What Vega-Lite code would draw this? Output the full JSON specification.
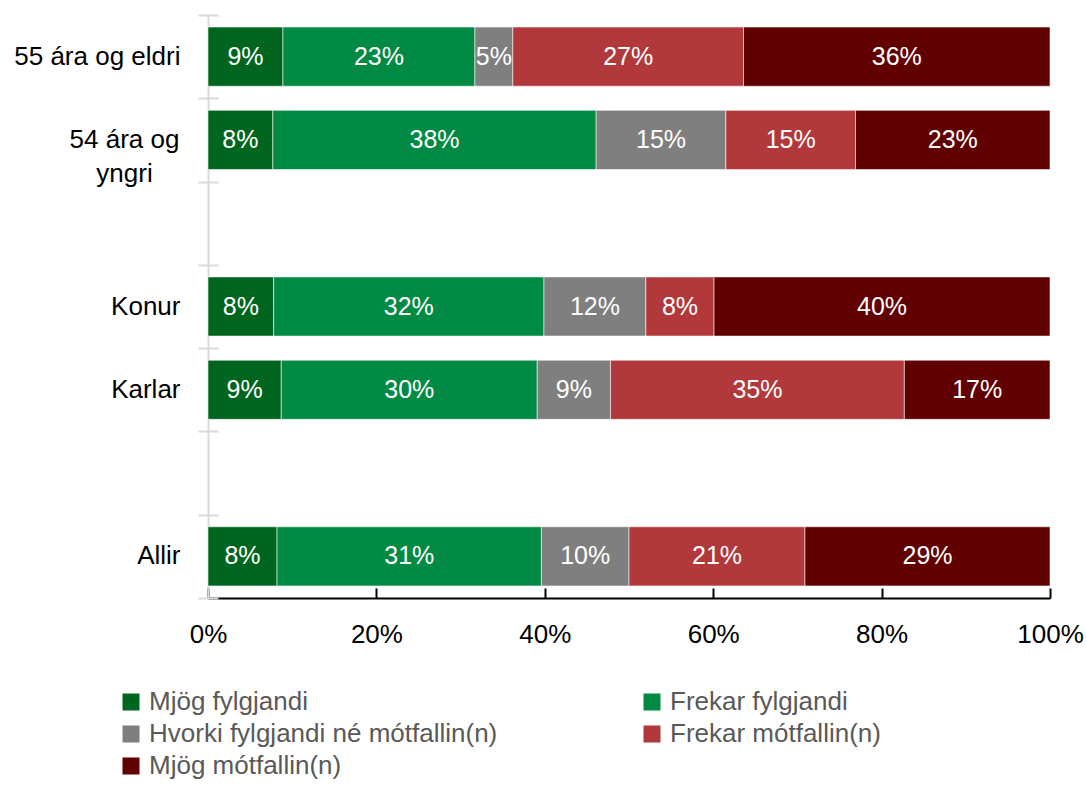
{
  "$schema": "https://vega.github.io/schema/vega-lite/v6.json",
  "autosize": "none",
  "width": 842,
  "height": 583,
  "padding": {"left": 208, "top": 15, "right": 36, "bottom": 187},
  "background": "#ffffff",
  "config": {"view": {"stroke": null}, "font": "Liberation Sans"},
  "data": {"values": [
    {"g": "55 ára og eldri", "c": "Mjög fylgjandi", "o": 1, "v": 0.089},
    {"g": "55 ára og eldri", "c": "Frekar fylgjandi", "o": 2, "v": 0.228},
    {"g": "55 ára og eldri", "c": "Hvorki fylgjandi né mótfallin(n)", "o": 3, "v": 0.045},
    {"g": "55 ára og eldri", "c": "Frekar mótfallin(n)", "o": 4, "v": 0.274},
    {"g": "55 ára og eldri", "c": "Mjög mótfallin(n)", "o": 5, "v": 0.364},
    {"g": "54 ára og yngri", "c": "Mjög fylgjandi", "o": 1, "v": 0.077},
    {"g": "54 ára og yngri", "c": "Frekar fylgjandi", "o": 2, "v": 0.384},
    {"g": "54 ára og yngri", "c": "Hvorki fylgjandi né mótfallin(n)", "o": 3, "v": 0.154},
    {"g": "54 ára og yngri", "c": "Frekar mótfallin(n)", "o": 4, "v": 0.154},
    {"g": "54 ára og yngri", "c": "Mjög mótfallin(n)", "o": 5, "v": 0.231},
    {"g": "Konur", "c": "Mjög fylgjandi", "o": 1, "v": 0.078},
    {"g": "Konur", "c": "Frekar fylgjandi", "o": 2, "v": 0.321},
    {"g": "Konur", "c": "Hvorki fylgjandi né mótfallin(n)", "o": 3, "v": 0.121},
    {"g": "Konur", "c": "Frekar mótfallin(n)", "o": 4, "v": 0.081},
    {"g": "Konur", "c": "Mjög mótfallin(n)", "o": 5, "v": 0.399},
    {"g": "Karlar", "c": "Mjög fylgjandi", "o": 1, "v": 0.087},
    {"g": "Karlar", "c": "Frekar fylgjandi", "o": 2, "v": 0.304},
    {"g": "Karlar", "c": "Hvorki fylgjandi né mótfallin(n)", "o": 3, "v": 0.087},
    {"g": "Karlar", "c": "Frekar mótfallin(n)", "o": 4, "v": 0.349},
    {"g": "Karlar", "c": "Mjög mótfallin(n)", "o": 5, "v": 0.173},
    {"g": "Allir", "c": "Mjög fylgjandi", "o": 1, "v": 0.082},
    {"g": "Allir", "c": "Frekar fylgjandi", "o": 2, "v": 0.314},
    {"g": "Allir", "c": "Hvorki fylgjandi né mótfallin(n)", "o": 3, "v": 0.104},
    {"g": "Allir", "c": "Frekar mótfallin(n)", "o": 4, "v": 0.209},
    {"g": "Allir", "c": "Mjög mótfallin(n)", "o": 5, "v": 0.291}
  ]},
  "transform": [
    {"stack": "v", "groupby": ["g"], "sort": [{"field": "o", "order": "ascending"}], "as": ["x0", "x1"]}
  ],
  "resolve": {"axis": {"y": "independent"}},
  "layer": [
    {
      "mark": {"type": "bar", "height": {"band": 0.71}, "stroke": "#ffffff", "strokeOpacity": 0.55, "strokeWidth": 1},
      "encoding": {
        "y": {
          "field": "g", "type": "nominal",
          "scale": {"domain": ["55 ára og eldri", "54 ára og yngri", "gap1", "Konur", "Karlar", "gap2", "Allir"], "paddingInner": 0, "paddingOuter": 0},
          "axis": {
            "title": null, "domainColor": "#D9D9D9", "domainWidth": 2, "ticks": false,
            "labelPadding": {"condition": {"test": "datum.value == '54 ára og yngri'", "value": 84}, "value": 28},
            "labelAlign": {"condition": {"test": "datum.value == '54 ára og yngri'", "value": "center"}, "value": "right"},
            "labelFontSize": 26, "labelColor": "#000000", "labelLineHeight": 34, "labelLimit": 300,
            "labelExpr": "datum.value == '54 ára og yngri' ? ['54 ára og', 'yngri'] : (indexof(datum.value, 'gap') == 0 ? '' : datum.value)"
          }
        },
        "x": {
          "field": "x0", "type": "quantitative",
          "scale": {"domain": [0, 1], "nice": false},
          "axis": {
            "title": null, "values": [0, 0.2, 0.4, 0.6, 0.8, 1], "format": ".0%", "grid": false,
            "domainColor": "#000000", "domainWidth": 2, "tickColor": "#000000", "tickWidth": 2, "tickSize": -10,
            "labelPadding": 33, "labelFontSize": 26, "labelColor": "#000000", "labelFlush": false
          }
        },
        "x2": {"field": "x1"},
        "color": {
          "field": "c", "type": "nominal",
          "scale": {
            "domain": ["Mjög fylgjandi", "Frekar fylgjandi", "Hvorki fylgjandi né mótfallin(n)", "Frekar mótfallin(n)", "Mjög mótfallin(n)"],
            "range": ["#00651E", "#008A44", "#7F7F7F", "#B2393B", "#600000"]
          },
          "legend": {
            "orient": "none", "legendX": -90, "legendY": 674, "columns": 2, "direction": "horizontal",
            "columnPadding": 141, "rowPadding": 6,
            "symbolType": "square", "symbolSize": 289, "symbolStrokeWidth": 0,
            "labelFontSize": 26, "labelColor": "#595959", "labelLimit": 600, "title": null, "labelOffset": 5
          }
        }
      }
    },
    {
      "transform": [
        {"fold": ["x0", "x1"], "as": ["k", "p"]},
        {"aggregate": [{"op": "mean", "field": "p", "as": "mid"}], "groupby": ["g", "c", "v"]}
      ],
      "mark": {"type": "text", "color": "#ffffff", "fontSize": 25, "baseline": "middle", "align": "center"},
      "encoding": {
        "y": {
          "field": "g", "type": "nominal",
          "axis": {
            "orient": "left", "offset": -10, "domain": false, "labels": false, "ticks": true, "tickSize": 20,
            "tickColor": "#D9D9D9", "tickWidth": 2, "tickBand": "extent", "title": null
          }
        },
        "x": {"field": "mid", "type": "quantitative"},
        "text": {"field": "v", "type": "quantitative", "format": ".0%"}
      }
    }
  ]
}
